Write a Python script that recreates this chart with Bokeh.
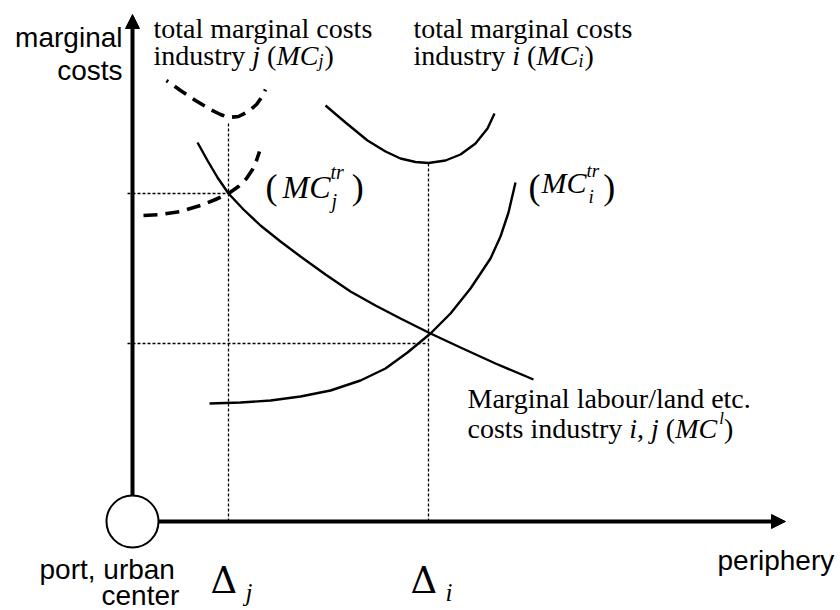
from bokeh.plotting import figure
from bokeh.models import Range1d, Arrow, NormalHead
from bokeh.embed import file_html
from bokeh.resources import INLINE
from bokeh.core.properties import value

# ---- data (diagram units; origin at the port / urban center) ----
# marginal labour/land costs MC^l (decreasing)
mcl_x = [65, 75, 85, 96, 111, 128, 148, 168, 193, 218, 243, 268, 298, 328, 363, 401]
mcl_y = [379, 361, 344, 328, 312, 296, 280, 265, 247, 230, 216, 203, 188, 174, 158, 142]
# transport marginal costs industry i (increasing)
mctri_x = [77, 108, 138, 168, 198, 228, 253, 275, 298, 318, 338, 358, 368, 376, 383]
mctri_y = [118, 119, 121, 125, 131, 141, 153, 169, 188, 208, 233, 263, 285, 309, 339]
# total marginal costs industry i
mci_x = [193, 213, 235, 253, 268, 283, 296, 313, 328, 343, 355, 362]
mci_y = [416, 399, 381, 370, 363, 359.5, 358.5, 361, 367, 378, 393, 408]
# total marginal costs industry j (dashed)
mcj_x = [34, 48, 63, 78, 88, 96, 106, 116, 124, 129, 133]
mcj_y = [441, 431, 421, 412, 407, 404, 405, 410, 417, 424, 432]
# transport marginal costs industry j (dashed)
mctrj_x = [11, 28, 48, 68, 83, 96, 106, 114, 120, 124, 127]
mctrj_y = [306, 307, 310, 316, 322, 328, 335, 343, 352, 361, 370]
# optimal locations and guide levels
delta_names = ["j", "i"]
delta_x = [96, 296]
delta_top = [398, 358]
level_y = [328, 178]
axis_x_end = 653
axis_y_end = 507
center_radius = 26

SERIF = "Liberation Serif"
SANS = "Liberation Sans"

W_REG = {" ": 250, "a": 444, "b": 500, "c": 444, "d": 500, "e": 444, "g": 500,
         "i": 278, "l": 278, "m": 778, "n": 500, "o": 500, "r": 333, "s": 389,
         "t": 278, "u": 500, "y": 500, "M": 889, "(": 333, ")": 333, ",": 250,
         ".": 250, "/": 278}
W_IT = {" ": 250, "i": 278, "j": 278, "l": 278, "t": 278, "r": 389, "M": 833, "C": 667}

p = figure(width=840, height=610, x_range=Range1d(-132, 708), y_range=Range1d(-89, 521),
           output_backend="svg", toolbar_location=None, min_border=0,
           x_axis_location=None, y_axis_location=None)
p.grid.visible = False
p.outline_line_color = None
p.background_fill_color = "white"
p.border_fill_color = "white"


def tw(s, italic, size):
    t = W_IT if italic else W_REG
    return sum(t.get(c, 500) for c in s) / 1000.0 * size


def put(x, y, txt, size, italic=False, font=SERIF, align="left"):
    p.text(x=[x], y=[y], text=[txt], text_font=value(font),
           text_font_size=f"{size}px",
           text_font_style="italic" if italic else "normal",
           text_baseline="alphabetic", text_align=align, text_color="black")


def rich(x, y, pieces):
    for txt, it, size, dy, gap in pieces:
        x += gap
        lead = len(txt) - len(txt.lstrip(" "))
        x += tw(" " * lead, it, size)
        body = txt.lstrip(" ")
        put(x, y + dy, body.rstrip(" "), size, it)
        x += tw(body, it, size)


# ---- axes ----
p.add_layout(Arrow(end=NormalHead(size=14, fill_color="black", line_color="black"),
                   x_start=0, y_start=center_radius, x_end=0, y_end=axis_y_end,
                   line_width=4, line_color="black"))
p.add_layout(Arrow(end=NormalHead(size=14, fill_color="black", line_color="black"),
                   x_start=center_radius, y_start=0, x_end=axis_x_end, y_end=0,
                   line_width=4, line_color="black"))
p.circle(x=[0], y=[0], radius=center_radius, fill_color="white",
         line_color="black", line_width=2)

# ---- dotted guides ----
for dx, top, ly in zip(delta_x, delta_top, level_y):
    p.line([dx, dx], [0, top], line_color="black", line_width=1.3, line_dash="3 2")
    p.line([-5, dx], [ly, ly], line_color="black", line_width=1.3, line_dash="3 2")

# ---- curves ----
p.line(mcl_x, mcl_y, line_color="black", line_width=2.4)
p.line(mctri_x, mctri_y, line_color="black", line_width=2.4)
p.line(mci_x, mci_y, line_color="black", line_width=2.4)
p.line(mcj_x, mcj_y, line_color="black", line_width=3.6, line_dash="14 8",
       line_dash_offset=12)
p.line(mctrj_x, mctrj_y, line_color="black", line_width=3.6, line_dash="14 8")

# ---- labels ----
put(-10, 484, "marginal", 28, font=SANS, align="right")
put(-10, 451, "costs", 28, font=SANS, align="right")
put(585, -39, "periphery", 28, font=SANS)
put(-93, -48, "port, urban", 28, font=SANS)
put(-31, -74, "center", 28, font=SANS)

for name, bx in zip(["j", "i"], [21, 281]):
    put(bx, 493, "total marginal costs", 28)
    rich(bx, 466, [("industry ", False, 28, 0, 0), (name, True, 28, 0, 0),
                   (" (", False, 28, 0, 0), ("MC", True, 28, 0, 0),
                   (name, True, 18, -5, 0), (")", False, 28, 0, 1)])

put(335, 123, "Marginal labour/land etc.", 28)
rich(335, 93, [("costs industry ", False, 28, 0, 0), ("i", True, 28, 0, 0),
               (", ", False, 28, 0, 0), ("j", True, 28, 0, 0), (" (", False, 28, 0, 0),
               ("MC", True, 28, 0, 0), ("l", True, 17, 10, 2), (")", False, 28, 0, 0)])

# (MC_j^tr)
x0 = 133
put(x0, 335, "(", 36)
xm = x0 + 17
put(xm, 335, "MC", 32, True)
xs = xm + tw("MC", True, 32)
put(xs, 350, "tr", 20, True)
put(xs + 1, 321, "j", 20, True)
put(xs + tw("tr", True, 20) + 8, 335, ")", 36)

# (MC_i^tr)
x1 = 396
put(x1, 335, "(", 36)
xm = x1 + 13
put(xm, 339, "MC", 30, True)
xs = xm + tw("MC", True, 30)
put(xs, 351, "tr", 19, True)
put(xs + 2, 325, "i", 19, True)
put(xs + tw("tr", True, 19) + 4, 335, ")", 36)

# Delta labels
for name, dx in zip(delta_names, delta_x):
    put(dx - 18, -59, "\u0394", 37, font="DejaVu Serif")
    put(dx + 17, -71, name, 25, True)

open("out.html", "w").write(file_html(p, INLINE))
